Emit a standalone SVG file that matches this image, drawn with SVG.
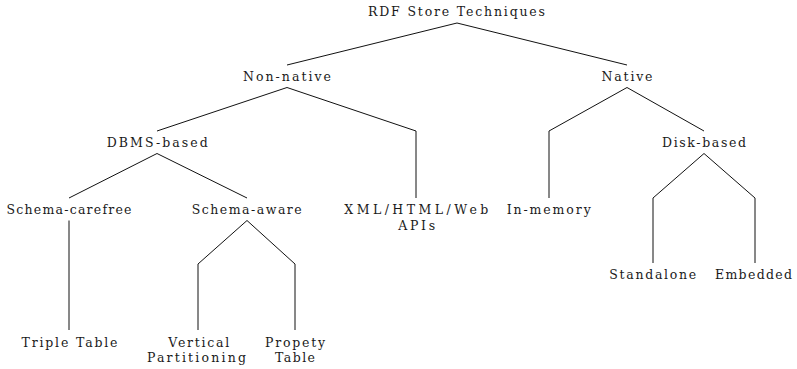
<svg xmlns="http://www.w3.org/2000/svg" width="797" height="369" viewBox="0 0 797 369">
<style>
text{font-family:"DejaVu Serif","Liberation Serif",serif;font-size:12.5px;fill:#1a1a1a;text-anchor:middle}
.c{fill:none;stroke:#111;stroke-width:1}
</style>
<rect width="797" height="369" fill="#fff"/>
<g id="connectors">
<path class="c" d="M287,65 L457,23 L627,65"/>
<path class="c" d="M157,131 L287,87.5 L416,131 L416,198"/>
<path class="c" d="M69,198 L157,153.5 L247,198"/>
<path class="c" d="M69,220.5 L69,330"/>
<path class="c" d="M198,330 L198,264 L247,220.5 L295,264 L295,330"/>
<path class="c" d="M549,198 L549,131 L627,87.5 L704,131"/>
<path class="c" d="M653,263 L653,198 L704,153.5 L755,198 L755,263"/>
</g>
<g id="root"><text x="456.5" y="16" textLength="177" lengthAdjust="spacing">RDF Store Techniques</text></g>
<g id="non-native"><text x="287" y="81" textLength="88" lengthAdjust="spacing">Non-native</text></g>
<g id="native"><text x="627" y="81" textLength="51" lengthAdjust="spacing">Native</text></g>
<g id="dbms-based"><text x="157.3" y="147" textLength="101" lengthAdjust="spacing">DBMS-based</text></g>
<g id="disk-based"><text x="704" y="147" textLength="84" lengthAdjust="spacing">Disk-based</text></g>
<g id="schema-carefree"><text x="69" y="214" textLength="125" lengthAdjust="spacing">Schema-carefree</text></g>
<g id="schema-aware"><text x="246.7" y="214" textLength="110" lengthAdjust="spacing">Schema-aware</text></g>
<g id="xml-html-web"><text x="416.3" y="214" textLength="144" lengthAdjust="spacing">XML/HTML/Web</text><text x="416.7" y="230" textLength="37" lengthAdjust="spacing">APIs</text></g>
<g id="in-memory"><text x="548.7" y="214" textLength="84" lengthAdjust="spacing">In-memory</text></g>
<g id="standalone"><text x="652.7" y="279" textLength="87" lengthAdjust="spacing">Standalone</text></g>
<g id="embedded"><text x="753.5" y="279" textLength="77" lengthAdjust="spacing">Embedded</text></g>
<g id="triple-table"><text x="69.5" y="347" textLength="96" lengthAdjust="spacing">Triple Table</text></g>
<g id="vertical-partitioning"><text x="198.8" y="347" textLength="61" lengthAdjust="spacing">Vertical</text><text x="196.4" y="362" textLength="99" lengthAdjust="spacing">Partitioning</text></g>
<g id="propety-table"><text x="295" y="347" textLength="60" lengthAdjust="spacing">Propety</text><text x="295" y="362" textLength="40" lengthAdjust="spacing">Table</text></g>
</svg>
